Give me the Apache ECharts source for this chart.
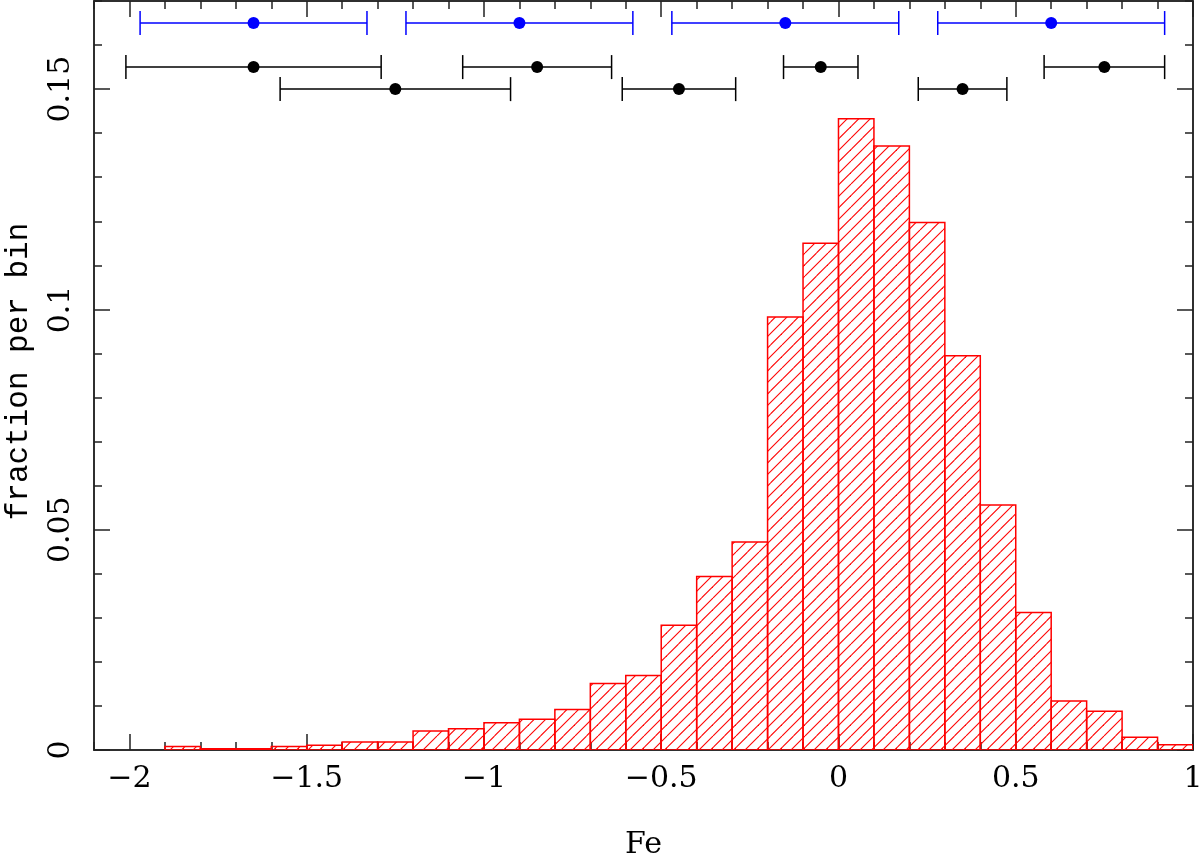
<!DOCTYPE html>
<html>
<head>
<meta charset="utf-8">
<script src="https://cdn.jsdelivr.net/npm/echarts@6/dist/echarts.min.js"></script>
<style>
html,body{margin:0;padding:0;background:#fff;}
#chart{width:1200px;height:856px;}
</style>
</head>
<body>
<div id="chart"></div>
<script>
// ---- data ----
const binLeft = [-1.9,-1.8,-1.7,-1.6,-1.5,-1.4,-1.3,-1.2,-1.1,-1.0,-0.9,-0.8,-0.7,-0.6,-0.5,-0.4,-0.3,-0.2,-0.1,0.0,0.1,0.2,0.3,0.4,0.5,0.6,0.7,0.8,0.9];
const binWidth = 0.1;
const fraction = [0.0008,0.0003,0.0003,0.0008,0.0011,0.0018,0.0018,0.0043,0.0048,0.0062,0.0070,0.0092,0.0151,0.0169,0.0283,0.0394,0.0472,0.0983,0.1150,0.1433,0.1371,0.1197,0.0895,0.0556,0.0312,0.0111,0.0088,0.0029,0.0012];

// error bars: centre, low, high, y
const blueY = 0.165;
const blueCenter = [-1.65, -0.90, -0.15, 0.60];
const blueLow    = [-1.97, -1.22, -0.47, 0.28];
const blueHigh   = [-1.33, -0.58, 0.17, 0.92];

const black1Y = 0.155;
const black1Center = [-1.65, -0.85, -0.05, 0.75];
const black1Low    = [-2.01, -1.06, -0.155, 0.58];
const black1High   = [-1.29, -0.64, 0.055, 0.92];

const black2Y = 0.150;
const black2Center = [-1.25, -0.45, 0.35];
const black2Low    = [-1.575, -0.61, 0.225];
const black2High   = [-0.925, -0.29, 0.475];

const xMajorTicks = [-2, -1.5, -1, -0.5, 0, 0.5, 1];
const xMinorTicks = [-2.1,-2.0,-1.9,-1.8,-1.7,-1.6,-1.5,-1.4,-1.3,-1.2,-1.1,-1.0,-0.9,-0.8,-0.7,-0.6,-0.5,-0.4,-0.3,-0.2,-0.1,0.0,0.1,0.2,0.3,0.4,0.5,0.6,0.7,0.8,0.9,1.0];
const yMajorTicks = [0, 0.05, 0.1, 0.15];
const yMinorTicks = [0,0.01,0.02,0.03,0.04,0.05,0.06,0.07,0.08,0.09,0.10,0.11,0.12,0.13,0.14,0.15,0.16,0.17];

const xName = 'Fe';
const yName = 'fraction per bin';

// ---- styles ----
const AX = '#222';
const SERIF = '"DejaVu Serif", "Liberation Serif", serif';
const MONO = '"Liberation Mono", "DejaVu Sans Mono", monospace';

// hatch pattern
const pc = document.createElement('canvas');
pc.width = 23; pc.height = 23;
const pctx = pc.getContext('2d');
pctx.strokeStyle = '#ff0000';
pctx.lineWidth = 1.1;
[0, 11.5, 23, 34.5, 46].forEach(c => {
  pctx.beginPath();
  pctx.moveTo(c, 0);
  pctx.lineTo(c - 23, 23);
  pctx.stroke();
});
const hatch = { image: pc, repeat: 'repeat' };

function fmt(v) {
  return String(+v.toFixed(4)).replace('-', '\u2212');
}

function mkX(pos, major) {
  return {
    type: 'value', min: -2.1, max: 1, position: pos,
    axisLine: { show: true, onZero: false, lineStyle: { color: AX, width: 1.5 } },
    axisTick: { show: true, inside: true, length: major ? 16 : 8,
      customValues: major ? xMajorTicks : xMinorTicks, lineStyle: { color: AX, width: 1.5 } },
    axisLabel: { show: major && pos === 'bottom', customValues: xMajorTicks, formatter: fmt,
      fontFamily: SERIF, fontSize: 30, color: '#000', margin: 14 },
    splitLine: { show: false },
    name: (major && pos === 'bottom') ? xName : '',
    nameLocation: 'middle', nameGap: 80,
    nameTextStyle: { fontFamily: SERIF, fontSize: 30, color: '#000' }
  };
}
function mkY(pos, major) {
  return {
    type: 'value', min: 0, max: 0.17, position: pos,
    axisLine: { show: true, onZero: false, lineStyle: { color: AX, width: 1.5 } },
    axisTick: { show: true, inside: true, length: major ? 16 : 8,
      customValues: major ? yMajorTicks : yMinorTicks, lineStyle: { color: AX, width: 1.5 } },
    axisLabel: { show: major && pos === 'left', customValues: yMajorTicks, formatter: fmt,
      rotate: 90, fontFamily: SERIF, fontSize: 30, color: '#000', margin: 18 },
    splitLine: { show: false },
    name: (major && pos === 'left') ? yName : '',
    nameLocation: 'middle', nameGap: 60, nameRotate: 90,
    nameTextStyle: { fontFamily: MONO, fontSize: 31, color: '#000', padding: [0, 0, 0, 8] }
  };
}

function errData(lo, hi, y) { return lo.map((l, i) => [l, hi[i], y]); }
function dotData(c, y) { return c.map(v => [v, y]); }

function errRender(color) {
  return function (params, api) {
    const y = api.value(2);
    const a = api.coord([api.value(0), y]);
    const b = api.coord([api.value(1), y]);
    const h = 12;
    const st = { stroke: color, lineWidth: 1.5 };
    return { type: 'group', children: [
      { type: 'line', shape: { x1: a[0], y1: a[1], x2: b[0], y2: b[1] }, style: st },
      { type: 'line', shape: { x1: a[0], y1: a[1] - h, x2: a[0], y2: a[1] + h }, style: st },
      { type: 'line', shape: { x1: b[0], y1: b[1] - h, x2: b[0], y2: b[1] + h }, style: st }
    ] };
  };
}

const chart = echarts.init(document.getElementById('chart'), null, { renderer: 'canvas' });
chart.setOption({
  animation: false,
  backgroundColor: '#fff',
  grid: { left: 94, right: 7, top: 1, bottom: 106, containLabel: false, outerBoundsMode: 'none' },
  xAxis: [mkX('bottom', true), mkX('bottom', false), mkX('top', true), mkX('top', false)],
  yAxis: [mkY('left', true), mkY('left', false), mkY('right', true), mkY('right', false)],
  series: [
    {
      type: 'custom', xAxisIndex: 0, yAxisIndex: 0, clip: true,
      data: binLeft.map((x, i) => [x, x + binWidth, fraction[i]]),
      renderItem: function (params, api) {
        const a = api.coord([api.value(0), api.value(2)]);
        const b = api.coord([api.value(1), 0]);
        return { type: 'rect',
          shape: { x: a[0], y: a[1], width: b[0] - a[0], height: b[1] - a[1] },
          style: { fill: hatch, stroke: '#ff0000', lineWidth: 1.5 } };
      }
    },
    { type: 'custom', xAxisIndex: 0, yAxisIndex: 0, data: errData(blueLow, blueHigh, blueY), renderItem: errRender('#0000ff') },
    { type: 'custom', xAxisIndex: 0, yAxisIndex: 0, data: errData(black1Low, black1High, black1Y), renderItem: errRender('#000') },
    { type: 'custom', xAxisIndex: 0, yAxisIndex: 0, data: errData(black2Low, black2High, black2Y), renderItem: errRender('#000') },
    { type: 'scatter', xAxisIndex: 0, yAxisIndex: 0, symbol: 'circle', symbolSize: 12, itemStyle: { color: '#0000ff', opacity: 1 }, data: dotData(blueCenter, blueY) },
    { type: 'scatter', xAxisIndex: 0, yAxisIndex: 0, symbol: 'circle', symbolSize: 12, itemStyle: { color: '#000', opacity: 1 }, data: dotData(black1Center, black1Y) },
    { type: 'scatter', xAxisIndex: 0, yAxisIndex: 0, symbol: 'circle', symbolSize: 12, itemStyle: { color: '#000', opacity: 1 }, data: dotData(black2Center, black2Y) }
  ]
});
</script>
</body>
</html>
